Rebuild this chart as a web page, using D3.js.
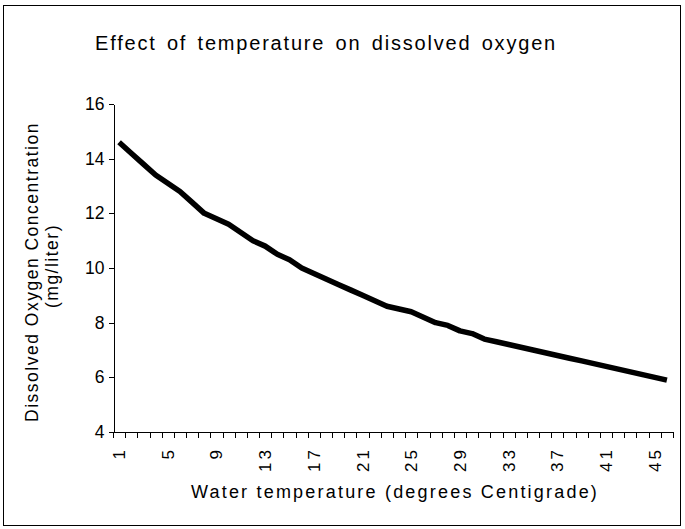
<!DOCTYPE html>
<html>
<head>
<meta charset="utf-8">
<script src="https://cdn.jsdelivr.net/npm/d3@7"></script>
<style>
  body { margin: 0; background: #fff; }
  text { font-family: "Liberation Sans", Arial, sans-serif; fill: #000; }
  .axis path, .axis line { stroke: #000; shape-rendering: crispEdges; }
</style>
</head>
<body>
<script>
// temperature categories 1..46 and dissolved oxygen (mg/liter)
const temps = ['1','2','3','4','5','6','7','8','9','10','11','12','13','14','15','16',
  '17','18','19','20','21','22','23','24','25','26','27','28','29','30','31','32',
  '33','34','35','36','37','38','39','40','41','42','43','44','45','46'];
const oxygen = [14.6, 14.2, 13.8, 13.4, 13.1, 12.8, 12.4, 12.0, 11.8, 11.6, 11.3, 11.0,
  10.8, 10.5, 10.3, 10.0, 9.8, 9.6, 9.4, 9.2, 9.0, 8.8, 8.6, 8.5, 8.4, 8.2, 8.0, 7.9,
  7.7, 7.6, 7.4, 7.3, 7.2, 7.1, 7.0, 6.9, 6.8, 6.7, 6.6, 6.5, 6.4, 6.3, 6.2, 6.1, 6.0, 5.9];
const yTicks = [4, 6, 8, 10, 12, 14, 16];
const xLabels = ['1','5','9','13','17','21','25','29','33','37','41','45'];

const width = 685;
const height = 529;
const plot = {left: 113, top: 104, right: 673, bottom: 432};

const svg = d3.select('body').append('svg')
    .attr('width', width)
    .attr('height', height);

// outer chart border
svg.append('rect')
    .attr('x', 3.5)
    .attr('y', 5.5)
    .attr('width', 677)
    .attr('height', 520)
    .attr('fill', '#fff')
    .attr('stroke', '#000')
    .attr('stroke-width', 1);

const xScale = d3.scaleBand()
    .domain(temps)
    .range([plot.left, plot.right])
    .padding(0);

const yScale = d3.scaleLinear()
    .domain([4, 16])
    .range([plot.bottom, plot.top]);

// y axis
svg.append('g')
    .attr('class', 'axis')
    .attr('transform', `translate(${plot.left + 0.5}, 0)`)
    .call(d3.axisLeft(yScale).tickValues(yTicks).tickSize(5).tickSizeOuter(0).tickPadding(4))
    .call(g => g.selectAll('text').style('font-size', '17.5px'));

// x axis line and boundary ticks (categories sit between ticks)
const xg = svg.append('g')
    .attr('class', 'axis')
    .attr('transform', `translate(0, ${plot.bottom + 0.5})`);

xg.append('line')
    .attr('x1', plot.left)
    .attr('x2', plot.right + 1)
    .attr('y1', 0)
    .attr('y2', 0);

xg.selectAll('.btick')
    .data(temps.concat(['end']))
    .enter()
    .append('line')
    .attr('class', 'btick')
    .attr('x1', d => d === 'end' ? plot.right + 0.5 : Math.round(xScale(d)) + 0.5)
    .attr('x2', d => d === 'end' ? plot.right + 0.5 : Math.round(xScale(d)) + 0.5)
    .attr('y1', 0)
    .attr('y2', 5);

// x labels, rotated
const xAxis = d3.axisBottom(xScale).tickValues(xLabels).tickSize(0).tickPadding(0);
svg.append('g')
    .attr('transform', `translate(0, ${plot.bottom})`)
    .call(xAxis)
    .call(g => g.select('.domain').remove())
    .call(g => g.selectAll('text')
        .style('font-size', '17px')
        .style('letter-spacing', '3px')
        .attr('text-anchor', 'end')
        .attr('dy', '0.35em')
        .attr('y', 0)
        .attr('transform', 'translate(0, 15) rotate(-90)'));

// the line
const line = d3.line()
    .x((d, i) => xScale(temps[i]) + xScale.bandwidth() / 2)
    .y(d => yScale(d));

svg.append('path')
    .datum(oxygen)
    .attr('d', line)
    .attr('fill', 'none')
    .attr('stroke', '#000')
    .attr('stroke-width', 5.5)
    .attr('stroke-linejoin', 'round');

// titles
svg.append('text')
    .text('Effect of temperature on dissolved oxygen')
    .attr('x', 326)
    .attr('y', 50)
    .attr('text-anchor', 'middle')
    .style('font-size', '20px')
    .style('letter-spacing', '1.8px')
    .style('word-spacing', '3px');

svg.append('text')
    .text('Water temperature (degrees Centigrade)')
    .attr('x', (plot.left + plot.right) / 2 + 2)
    .attr('y', 498)
    .attr('text-anchor', 'middle')
    .style('font-size', '18px')
    .style('letter-spacing', '2.2px');

const yMid = 272;
svg.append('text')
    .text('Dissolved Oxygen Concentration')
    .attr('transform', `translate(38, ${yMid}) rotate(-90)`)
    .attr('text-anchor', 'middle')
    .style('font-size', '17.5px')
    .style('letter-spacing', '1.5px');

svg.append('text')
    .text('(mg/liter)')
    .attr('transform', `translate(58, ${yMid - 6}) rotate(-90)`)
    .attr('text-anchor', 'middle')
    .style('font-size', '17.5px')
    .style('letter-spacing', '1.5px');
</script>
</body>
</html>
